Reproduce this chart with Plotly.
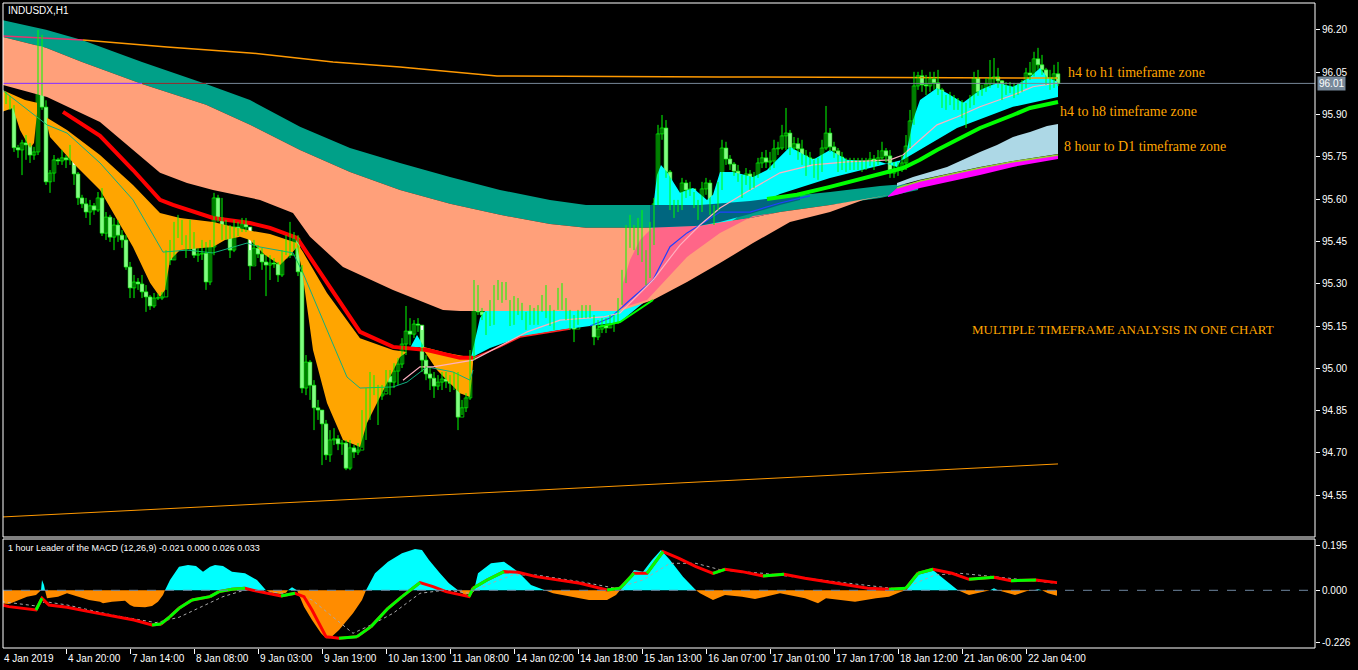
import plotly.graph_objects as go

# ---------------- price data (H1 bars, index 0..264) ----------------
open0 = 95.980
close = [
95.962, 95.951, 95.926, 95.782, 95.774, 95.799, 95.792, 95.756, 95.767, 96.146,
95.926, 95.661, 95.692, 95.739, 95.735, 95.746, 95.739, 95.763, 95.689, 95.604,
95.583, 95.554, 95.576, 95.561, 95.604, 95.479, 95.536, 95.465, 95.508, 95.472,
95.455, 95.359, 95.285, 95.306, 95.299, 95.271, 95.253, 95.221, 95.249, 95.249,
95.253, 95.395, 95.384, 95.490, 95.494, 95.455, 95.437, 95.451, 95.401, 95.405,
95.408, 95.306, 95.430, 95.604, 95.533, 95.483, 95.497, 95.419, 95.501, 95.490,
95.512, 95.501, 95.363, 95.426, 95.405, 95.377, 95.366, 95.373, 95.370, 95.331,
95.391, 95.441, 95.401, 95.462, 95.342, 94.930, 95.022, 94.940, 94.860, 94.852,
94.803, 94.693, 94.746, 94.750, 94.732, 94.735, 94.646, 94.718, 94.703, 94.710,
94.838, 94.909, 94.965, 94.926, 94.902, 94.909, 94.972, 94.951, 94.990, 95.015,
95.086, 95.132, 95.121, 95.157, 95.153, 95.029, 94.980, 94.965, 94.937, 94.951,
94.962, 94.954, 94.947, 94.965, 94.827, 94.860, 94.895, 95.036, 95.271, 95.200,
95.189, 95.182, 95.164, 95.267, 95.274, 95.253, 95.285, 95.164, 95.228, 95.217,
95.189, 95.164, 95.192, 95.178, 95.192, 95.239, 95.260, 95.164, 95.182, 95.256,
95.224, 95.185, 95.167, 95.139, 95.178, 95.203, 95.200, 95.203, 95.111, 95.139,
95.153, 95.143, 95.167, 95.164, 95.228, 95.310, 95.448, 95.476, 95.444, 95.462,
95.398, 95.327, 95.476, 95.583, 95.831, 95.852, 95.696, 95.590, 95.568, 95.572,
95.657, 95.632, 95.636, 95.590, 95.547, 95.636, 95.657, 95.565, 95.533, 95.639,
95.781, 95.742, 95.724, 95.699, 95.682, 95.625, 95.689, 95.675, 95.668, 95.728,
95.746, 95.731, 95.735, 95.778, 95.781, 95.824, 95.834, 95.781, 95.796, 95.778,
95.753, 95.746, 95.742, 95.696, 95.724, 95.781, 95.834, 95.785, 95.771, 95.749,
95.724, 95.714, 95.728, 95.724, 95.728, 95.724, 95.728, 95.742, 95.721, 95.746,
95.771, 95.753, 95.692, 95.703, 95.707, 95.728, 95.788, 95.877, 96.001, 96.037,
96.005, 96.001, 96.026, 96.012, 95.987, 95.944, 95.948, 95.955, 95.937, 95.941,
95.912, 95.902, 95.948, 96.029, 95.980, 95.984, 96.008, 96.026, 96.033, 96.019,
95.973, 95.991, 95.994, 95.980, 95.991, 96.001, 96.047, 96.040, 96.097, 96.076,
96.058, 96.029, 96.026, 96.044, 96.010]
high = [
95.994, 95.980, 95.966, 95.933, 95.792, 95.810, 95.827, 95.799, 95.785, 96.200,
96.182, 95.950, 95.703, 95.756, 95.746, 95.774, 95.756, 95.792, 95.721, 95.696,
95.615, 95.604, 95.597, 95.586, 95.625, 95.639, 95.554, 95.544, 95.533, 95.526,
95.490, 95.472, 95.377, 95.331, 95.320, 95.331, 95.295, 95.260, 95.267, 95.264,
95.271, 95.419, 95.455, 95.519, 95.544, 95.526, 95.472, 95.526, 95.483, 95.426,
95.455, 95.448, 95.455, 95.622, 95.615, 95.604, 95.526, 95.508, 95.526, 95.519,
95.533, 95.533, 95.419, 95.455, 95.437, 95.426, 95.401, 95.401, 95.391, 95.377,
95.419, 95.472, 95.519, 95.483, 95.472, 95.366, 95.047, 95.029, 94.958, 94.888,
94.852, 94.817, 94.781, 94.788, 94.763, 94.746, 94.746, 94.746, 94.728, 94.735,
94.852, 94.930, 94.987, 94.976, 94.941, 94.941, 94.994, 94.994, 95.018, 95.036,
95.107, 95.221, 95.178, 95.171, 95.178, 95.136, 95.047, 95.001, 94.987, 94.976,
94.987, 94.987, 94.976, 94.987, 94.987, 94.888, 94.912, 95.065, 95.313, 95.295,
95.214, 95.200, 95.242, 95.295, 95.313, 95.306, 95.306, 95.242, 95.256, 95.249,
95.232, 95.200, 95.224, 95.214, 95.224, 95.260, 95.295, 95.224, 95.207, 95.285,
95.302, 95.249, 95.207, 95.189, 95.207, 95.224, 95.224, 95.224, 95.189, 95.171,
95.178, 95.178, 95.189, 95.189, 95.249, 95.349, 95.508, 95.544, 95.508, 95.533,
95.561, 95.419, 95.519, 95.604, 95.863, 95.898, 95.880, 95.703, 95.597, 95.597,
95.675, 95.668, 95.661, 95.625, 95.597, 95.661, 95.675, 95.668, 95.579, 95.661,
95.810, 95.803, 95.756, 95.731, 95.721, 95.685, 95.710, 95.703, 95.696, 95.746,
95.767, 95.774, 95.767, 95.810, 95.803, 95.863, 95.923, 95.845, 95.820, 95.817,
95.810, 95.774, 95.767, 95.739, 95.746, 95.810, 95.930, 95.852, 95.803, 95.781,
95.767, 95.746, 95.746, 95.746, 95.746, 95.746, 95.746, 95.767, 95.756, 95.774,
95.803, 95.781, 95.774, 95.731, 95.731, 95.756, 95.827, 95.916, 96.051, 96.051,
96.058, 96.040, 96.051, 96.051, 96.058, 95.994, 95.969, 95.980, 95.969, 95.958,
95.951, 95.941, 95.969, 96.051, 96.058, 96.005, 96.029, 96.093, 96.100, 96.065,
96.022, 96.015, 96.015, 96.012, 96.012, 96.022, 96.065, 96.086, 96.122, 96.136,
96.111, 96.065, 96.058, 96.076, 96.086]
low = [
95.951, 95.937, 95.916, 95.767, 95.746, 95.685, 95.739, 95.728, 95.739, 95.756,
95.916, 95.650, 95.622, 95.661, 95.721, 95.721, 95.710, 95.721, 95.650, 95.579,
95.568, 95.533, 95.508, 95.544, 95.554, 95.469, 95.455, 95.448, 95.419, 95.448,
95.427, 95.349, 95.249, 95.249, 95.278, 95.249, 95.200, 95.207, 95.214, 95.242,
95.242, 95.278, 95.366, 95.384, 95.462, 95.437, 95.391, 95.419, 95.391, 95.377,
95.384, 95.278, 95.295, 95.401, 95.519, 95.455, 95.455, 95.391, 95.412, 95.469,
95.483, 95.483, 95.313, 95.366, 95.391, 95.349, 95.256, 95.313, 95.356, 95.306,
95.324, 95.401, 95.391, 95.419, 95.327, 94.912, 94.905, 94.888, 94.781, 94.817,
94.657, 94.675, 94.668, 94.728, 94.710, 94.693, 94.639, 94.639, 94.682, 94.693,
94.718, 94.746, 94.817, 94.905, 94.799, 94.888, 94.916, 94.905, 94.930, 94.941,
95.001, 95.047, 95.082, 95.107, 95.129, 94.987, 94.958, 94.923, 94.895, 94.923,
94.923, 94.930, 94.916, 94.923, 94.781, 94.834, 94.845, 94.888, 95.029, 95.189,
95.171, 95.118, 95.150, 95.154, 95.242, 95.232, 95.242, 95.150, 95.154, 95.189,
95.171, 95.136, 95.154, 95.154, 95.154, 95.200, 95.178, 95.150, 95.136, 95.207,
95.207, 95.171, 95.136, 95.093, 95.154, 95.178, 95.178, 95.178, 95.082, 95.100,
95.125, 95.125, 95.143, 95.129, 95.157, 95.225, 95.302, 95.427, 95.419, 95.401,
95.377, 95.295, 95.320, 95.437, 95.579, 95.810, 95.675, 95.561, 95.533, 95.554,
95.561, 95.604, 95.611, 95.568, 95.526, 95.554, 95.615, 95.544, 95.508, 95.561,
95.632, 95.721, 95.703, 95.682, 95.661, 95.604, 95.650, 95.632, 95.639, 95.675,
95.710, 95.710, 95.703, 95.710, 95.756, 95.774, 95.774, 95.756, 95.774, 95.739,
95.721, 95.682, 95.721, 95.675, 95.668, 95.696, 95.774, 95.767, 95.746, 95.696,
95.703, 95.696, 95.703, 95.703, 95.703, 95.696, 95.703, 95.717, 95.703, 95.721,
95.739, 95.731, 95.675, 95.675, 95.682, 95.696, 95.703, 95.781, 95.863, 95.987,
95.980, 95.969, 95.980, 95.987, 95.969, 95.923, 95.916, 95.933, 95.916, 95.916,
95.887, 95.852, 95.923, 95.933, 95.966, 95.966, 95.980, 95.994, 96.005, 95.994,
95.951, 95.969, 95.976, 95.958, 95.969, 95.980, 95.994, 96.022, 96.035, 96.058,
96.040, 96.005, 95.987, 95.994, 96.001]
bars = list(range(len(close)))
opens = [open0] + close[:-1]

x_tick_bars = [0, 16, 32, 48, 64, 80, 96, 112, 128, 144, 160, 176, 192, 208, 224, 240, 256]
x_tick_text = ["4 Jan 2019", "4 Jan 20:00", "7 Jan 14:00", "8 Jan 08:00", "9 Jan 03:00",
               "9 Jan 19:00", "10 Jan 13:00", "11 Jan 08:00", "14 Jan 02:00", "14 Jan 18:00",
               "15 Jan 13:00", "16 Jan 07:00", "17 Jan 01:00", "17 Jan 17:00", "18 Jan 12:00",
               "21 Jan 06:00", "22 Jan 04:00"]
price_ticks = [96.20, 96.05, 95.90, 95.75, 95.60, 95.45, 95.30, 95.15, 95.00, 94.85, 94.70, 94.55]
last_price = 96.01

# ---------------- zones (indicator bands) ----------------
teal_b = [0, 11, 20, 35, 51, 62, 74.5, 87, 99.5, 112, 124.5, 137, 146, 162, 174.5, 187, 194.5, 207, 219.5, 229]
teal_top = [96.235, 96.200, 96.164, 96.086, 96.008, 95.951, 95.856, 95.781, 95.728, 95.678, 95.632, 95.597,
            95.579, 95.579, 95.579, 95.593, 95.607, 95.625, 95.646, 95.657]
teal_bot = [96.175, 96.136, 96.086, 96.008, 95.934, 95.863, 95.774, 95.696, 95.632, 95.583, 95.544, 95.512,
            95.498, 95.498, 95.505, 95.533, 95.554, 95.579, 95.604, 95.632]

salmon_top_b = teal_b[:18] + [222]
salmon_top = teal_bot[:18] + [95.615]
salmon_bot_b = [0, 11.25, 24.5, 32.75, 39.5, 46.25, 52.75, 64.5, 72.75, 77, 85.25, 97.75, 110.25, 114.5,
                154.5, 162.75, 171.25, 179.5, 187.75, 197, 207, 215.25, 222]
salmon_bot = [96.005, 95.962, 95.873, 95.774, 95.693, 95.657, 95.632, 95.597, 95.551, 95.466, 95.359, 95.278,
              95.207, 95.203, 95.203, 95.242, 95.306, 95.373, 95.444, 95.519, 95.554, 95.597, 95.615]

pink_top_b = [155, 155.25, 157, 159.5, 162.75, 174.5, 187, 193.25]
pink_top = [95.242, 95.303, 95.384, 95.455, 95.501, 95.505, 95.533, 95.551]
pink_bot_b = [155, 161.25, 171.25, 179.5, 187.75]
pink_bot = [95.214, 95.242, 95.395, 95.480, 95.540]

dteal_top_b = [162, 174.5, 187, 194.5, 199.5]
dteal_top = [95.579, 95.579, 95.593, 95.607, 95.615]
dteal_bot_b = [162, 174.5, 179.5, 187, 194.5, 199.5]
dteal_bot = [95.498, 95.505, 95.519, 95.547, 95.579, 95.597]

cyan_top_b = [117.25, 118.25, 119.5, 121.25, 154.5, 161.25, 162.75, 163.75, 164.75, 166.25, 169.5, 172.75,
              176.25, 177.75, 179.5, 182.75, 187.75, 191.25, 193.75, 197, 202.75, 207, 211.25, 219.5, 223.75,
              226.25, 227.75, 229.5, 233.75, 236.25, 240.25, 244.5, 248.75, 252.75, 257, 259.5, 261.25, 264]
cyan_top = [95.037, 95.100, 95.178, 95.214, 95.225, 95.384, 95.572, 95.685, 95.721, 95.696, 95.622, 95.639,
            95.597, 95.615, 95.696, 95.696, 95.678, 95.703, 95.739, 95.785, 95.739, 95.774, 95.739, 95.732,
            95.714, 95.774, 95.880, 95.951, 95.994, 95.976, 95.941, 95.987, 96.012, 95.998, 96.033, 96.065,
            96.033, 96.015]
cyan_bot_b = [117.25, 122, 129.5, 139.5, 147, 154.5, 162.75, 172, 179.5, 187, 194.5, 207, 217, 225.25, 229.5,
              238.75, 252.75, 264]
cyan_bot = [95.037, 95.072, 95.111, 95.136, 95.150, 95.164, 95.260, 95.402, 95.490, 95.568, 95.618, 95.675,
            95.710, 95.739, 95.774, 95.852, 95.927, 95.962]
cyan_small_b = [102, 103.75, 105.5]
cyan_small = [95.072, 95.118, 95.076]

orA_top_b = [0, 2.75, 5.75, 8.75]
orA_top = [95.987, 95.969, 95.951, 95.941]
orA_bot_b = [0, 2.75, 4.5, 7, 8, 8.75]
orA_bot = [95.909, 95.923, 95.845, 95.781, 95.799, 95.905]
orB_top_b = [11.25, 16.25, 24.5, 32.75, 39.5, 44.5, 52.75, 61.25, 67, 73.75, 75.25, 81.25, 89.5, 97.75, 101.25]
orB_top = [95.888, 95.845, 95.756, 95.650, 95.551, 95.533, 95.519, 95.490, 95.476, 95.444, 95.412, 95.267,
           95.107, 95.065, 95.058]
orB_bot_b = [11.25, 12, 18.75, 24.5, 32.75, 37, 39.5, 40.75, 42, 44.5, 52.75, 55.75, 59.5, 62, 65.75, 69.5,
             72, 73.75, 75, 77.75, 81.25, 85.25, 89.5, 91.25, 94.5, 99.5, 101.25]
orB_bot = [95.863, 95.820, 95.714, 95.632, 95.430, 95.303, 95.253, 95.278, 95.384, 95.419, 95.430, 95.455,
           95.466, 95.455, 95.402, 95.366, 95.402, 95.430, 95.349, 95.065, 94.877, 94.746, 94.721, 94.806,
           94.898, 95.040, 95.058]
orC_top_b = [105.25, 111.25, 117.75]
orC_top = [95.076, 95.054, 95.037]
orC_bot_b = [105.25, 108.75, 111.25, 114.5, 117, 117.75]
orC_bot = [95.068, 94.994, 94.958, 94.912, 94.898, 95.019]

lb_top_b = [223.75, 227.75, 232, 236.25, 240.25, 244.5, 248.75, 252.75, 257, 261.25, 264]
lb_top = [95.657, 95.678, 95.696, 95.714, 95.739, 95.767, 95.792, 95.820, 95.838, 95.859, 95.866]
lb_bot_b = [223.75, 229.5, 236.25, 244.5, 252.75, 264]
lb_bot = [95.646, 95.668, 95.689, 95.714, 95.735, 95.760]
mg_top_b = [221.5, 223.75, 229.5, 236.25, 244.5, 252.75, 264]
mg_top = [95.611, 95.639, 95.664, 95.685, 95.710, 95.732, 95.756]
mg_bot_b = [221.5, 224.5, 229.5, 236.25, 244.5, 252.75, 264]
mg_bot = [95.607, 95.618, 95.639, 95.661, 95.685, 95.714, 95.742]

# ---------------- moving-average lines ----------------
red_b = [15.25, 24.5, 32.75, 39.5, 42.75, 52.75, 62, 67, 73.75, 81.25, 89.5, 97.75, 106.25, 114.5, 117.75]
red_v = [95.909, 95.824, 95.703, 95.597, 95.579, 95.533, 95.515, 95.498, 95.462, 95.303, 95.129, 95.076,
         95.065, 95.037, 95.037]
red_thin_b = [117.75, 124.5, 129.5, 137, 142]
red_thin_v = [95.037, 95.076, 95.111, 95.129, 95.139]
green1_b = [149, 154.5, 162.75]
green1_v = [95.146, 95.164, 95.242]
green2_b = [191.25, 198.75, 207, 217, 222, 225.25, 229.5, 233.75, 238.75, 244.5, 252.75, 257, 264]
green2_v = [95.600, 95.615, 95.643, 95.678, 95.696, 95.710, 95.739, 95.774, 95.810, 95.852, 95.898, 95.923, 95.944]
blue_b = [147, 152, 157, 162.75, 167, 171.25, 174.5, 179.5, 187, 194.5, 202]
blue_v = [95.150, 95.178, 95.242, 95.313, 95.431, 95.480, 95.508, 95.554, 95.554, 95.586, 95.611]
pinkl_b = [100.25, 104.5, 107.75, 117.75, 131.25, 139.5, 150.25, 154.5, 162.75, 169.5, 174.5, 179.5, 187,
           194.5, 202.75, 211.25, 222, 225.25, 229.5, 233.75, 238.75, 244.5, 252.75, 257.75, 264]
pinkl_v = [94.958, 95.005, 95.005, 95.029, 95.129, 95.171, 95.182, 95.196, 95.313, 95.437, 95.508, 95.568,
           95.632, 95.693, 95.721, 95.732, 95.739, 95.756, 95.810, 95.863, 95.891, 95.927, 95.969, 95.998, 96.012]
tg_b = [0, 7, 11.25, 16.25, 24.5, 32.75, 40.25, 46.25, 52.75, 61.25, 64.5, 72.75, 75.25, 81.25, 86.25, 89.5,
        97.75, 101.25, 106.25, 112.75, 117, 117.75]
tg_v = [95.987, 95.909, 95.863, 95.834, 95.728, 95.597, 95.412, 95.419, 95.409, 95.444, 95.430, 95.409,
        95.338, 95.136, 94.969, 94.930, 94.934, 94.951, 95.005, 94.987, 94.958, 94.994]
otop_b = [0, 20.25, 41.25, 62, 82.75, 99.5, 123.75, 179.5, 264]
otop_v = [96.178, 96.164, 96.139, 96.118, 96.086, 96.068, 96.036, 96.033, 96.029]
olow_b = [0, 264]
olow_v = [94.473, 94.661]

# ---------------- MACD panel ----------------
hist_b = [0, 1.75, 6.25, 8.5, 9.75, 10, 10.5, 10.75, 11.25, 14, 16.25, 19, 21.75, 24.5, 25.25, 27.5, 30.75,
          32, 33, 35.75, 37.5, 39, 40.25, 40.75, 42, 44.25, 46.5, 48.5, 50.25, 52, 53.25, 55.25, 57.5, 60.75,
          63.75, 65.5, 66, 67.5, 69.5, 71, 71.5, 72.5, 73.25, 73.75, 75.5, 77.5, 79.75, 81, 82, 84.25, 87.75,
          90, 91, 93.25, 96.5, 100, 103.25, 105, 106.75, 109.5, 111.75, 114, 115.75, 117.5, 118, 119, 122.25,
          125.5, 129, 132.25, 135.75, 137.75, 142.25, 146.75, 151.25, 153.5, 154.5, 158, 160.25, 162.5,
          164.75, 167, 170.25, 173.5, 174.5, 177.75, 180.75, 185, 188.25, 194.5, 200.75, 204, 206, 210.25,
          213.25, 218.5, 221.75, 224.75, 226, 229, 232.75, 235.25, 239, 241.75, 245.75, 247, 248, 249,
          253.25, 256.25, 258, 259, 260, 261.5, 263.75]
hist_v = [-0.0563, -0.0592, -0.0274, -0.0202, 0.0, 0.0447, 0.0231, 0.0, -0.0346, -0.0274, -0.0130, -0.0274,
          -0.0418, -0.0491, -0.0563, -0.0491, -0.0447, -0.0635, -0.0707, -0.0736, -0.0678, -0.0491, -0.0202,
          0.0, 0.0447, 0.1025, 0.1097, 0.1053, 0.0808, 0.1025, 0.1097, 0.1053, 0.0808, 0.0736, 0.0447, 0.0087,
          0.0, -0.0101, -0.0159, -0.0101, 0.0, 0.0130, 0.0072, 0.0, -0.0707, -0.1284, -0.1861, -0.2078,
          -0.2078, -0.1717, -0.0996, -0.0418, 0.0, 0.0736, 0.1241, 0.1602, 0.1789, 0.1746, 0.1313, 0.0736,
          0.0303, 0.0, -0.0202, -0.0130, 0.0, 0.0736, 0.1169, 0.1241, 0.0808, 0.0231, 0.0, -0.0130, -0.0274,
          -0.0418, -0.0418, -0.0202, 0.0, 0.0880, 0.0808, 0.1313, 0.1746, 0.1313, 0.0592, 0.0, -0.0130,
          -0.0418, -0.0202, -0.0274, -0.0375, -0.0130, -0.0346, -0.0563, -0.0346, -0.0418, -0.0491, -0.0346,
          -0.0274, -0.0058, 0.0, 0.0736, 0.0880, 0.0519, 0.0, -0.0202, -0.0058, 0.0, 0.0087, 0.0, -0.0202,
          -0.0029, 0.0, 0.0043, 0.0, -0.0130, -0.0231]
macd_b = [0, 1.75, 8.5, 10, 11.75, 16.25, 21.75, 27.5, 33, 37.5, 39.75, 42, 44.25, 47.5, 52, 54.25, 57.5,
          60.75, 64.25, 69.75, 73.25, 75.5, 77.5, 81, 84.25, 88.75, 92.25, 96.5, 100, 104.5, 107.75, 111,
          114.5, 116.75, 117.75, 121.25, 125.5, 129, 133.5, 139, 144.5, 151.25, 154.5, 158, 161.25, 165.25,
          169.25, 173.5, 174.5, 177.75, 180.75, 185, 190.25, 195.5, 200.75, 206, 211.25, 216.5, 221.75, 226,
          229, 232.75, 237.5, 241.75, 248, 252.25, 258.5, 263.75]
macd_v = [-0.0635, -0.0707, -0.0851, -0.0346, -0.0635, -0.0736, -0.0924, -0.1111, -0.1284, -0.1501, -0.1457,
          -0.1140, -0.0779, -0.0418, -0.0274, -0.0058, 0.0043, 0.0087, -0.0058, -0.0245, -0.0130, -0.0274,
          -0.0851, -0.2006, -0.2078, -0.2006, -0.1573, -0.0779, -0.0274, 0.0332, 0.0159, -0.0058, -0.0202,
          -0.0274, 0.0087, 0.0447, 0.0808, 0.0779, 0.0592, 0.0447, 0.0303, 0.0014, 0.0087, 0.0736, 0.0736,
          0.1674, 0.1385, 0.1025, 0.0952, 0.0736, 0.0909, 0.0808, 0.0620, 0.0693, 0.0519, 0.0375, 0.0231,
          0.0087, 0.0043, 0.0087, 0.0736, 0.0909, 0.0736, 0.0476, 0.0563, 0.0418, 0.0447, 0.0332]
sig_b = [0, 8.5, 10.75, 16.25, 27.5, 38.5, 44.25, 49.75, 55.25, 60.75, 66.5, 73.25, 77.5, 83.25, 87.75,
         92.25, 97.75, 104.5, 111, 116.75, 122.25, 127.75, 133.5, 144.5, 153.5, 160.25, 167, 173.5, 179.75,
         190.25, 200.75, 211.25, 216.5, 224.75, 233.25, 239.5, 248, 263.75]
sig_v = [-0.0491, -0.0678, -0.0491, -0.0635, -0.1068, -0.1400, -0.1169, -0.0707, -0.0274, 0.0014, -0.0058,
         -0.0173, -0.0418, -0.1212, -0.1861, -0.1501, -0.0996, -0.0130, 0.0014, -0.0130, 0.0303, 0.0664,
         0.0664, 0.0375, 0.0087, 0.0447, 0.1169, 0.1169, 0.0880, 0.0736, 0.0519, 0.0303, 0.0188, 0.0043,
         0.0664, 0.0736, 0.0592, 0.0300]
macd_ticks = [0.195, 0.0, -0.226]
macd_tick_text = ["0.195", "0.000", "-0.226"]

# ---------------- layout geometry ----------------
W, H = 1358, 670
X_DOM = [3 / W, 1315 / W]
Y_MAIN = [1 - 537 / H, 1 - 3 / H]
Y_MACD = [1 - 648 / H, 1 - 539 / H]
X_RANGE = [0.25, 328.25]
Y_RANGE = [94.402, 96.295]
Y2_RANGE = [-0.2498, 0.2221]


def px(xp):
    return xp / W


def py(yp):
    return 1 - yp / H


def bar_to_paper(b):
    return X_DOM[0] + (b - X_RANGE[0]) / (X_RANGE[1] - X_RANGE[0]) * (X_DOM[1] - X_DOM[0])


def poly(tb, tv, bb, bv):
    return list(tb) + list(bb)[::-1], list(tv) + list(bv)[::-1]


fig = go.Figure()


def add_zone(tb, tv, bb, bv, color):
    xs, ys = poly(tb, tv, bb, bv)
    fig.add_trace(go.Scatter(x=xs, y=ys, fill="toself", fillcolor=color, mode="lines",
                             line=dict(width=0, color=color), hoverinfo="skip", showlegend=False))


def add_line(xs, ys, color, width, dash="solid", yaxis="y"):
    fig.add_trace(go.Scatter(x=xs, y=ys, mode="lines", line=dict(color=color, width=width, dash=dash),
                             yaxis=yaxis, hoverinfo="skip", showlegend=False))


TEAL = "#00A088"
SALMON = "#FFA07A"
PINK = "#FF6688"
DTEAL = "#00667F"
CYAN = "#00FFFF"
ORANGE = "#FFA500"
CANDLE = "#00FF00"

add_zone(teal_b, teal_top, teal_b, teal_bot, TEAL)
add_zone(cyan_top_b, cyan_top, cyan_bot_b, cyan_bot, CYAN)
add_zone(salmon_top_b, salmon_top, salmon_bot_b, salmon_bot, SALMON)
add_zone(pink_top_b, pink_top, pink_bot_b, pink_bot, PINK)
add_zone(dteal_top_b, dteal_top, dteal_bot_b, dteal_bot, DTEAL)
add_zone(orA_top_b, orA_top, orA_bot_b, orA_bot, ORANGE)
add_zone(orB_top_b, orB_top, orB_bot_b, orB_bot, ORANGE)
add_zone(orC_top_b, orC_top, orC_bot_b, orC_bot, ORANGE)
fig.add_trace(go.Scatter(x=cyan_small_b, y=cyan_small, fill="toself", fillcolor=CYAN, mode="lines",
                         line=dict(width=0), hoverinfo="skip", showlegend=False))
add_zone(lb_top_b, lb_top, lb_bot_b, lb_bot, "#ADD8E6")
add_zone(mg_top_b, mg_top, mg_bot_b, mg_bot, "#FF00FF")

# lines
add_line(mg_top_b[1:], mg_top[1:], "#9ACD32", 1.5)
add_line(olow_b, olow_v, "#FF9900", 1)
add_line(otop_b[:2], otop_v[:2], "#E8306E", 1.5)
add_line(otop_b[1:], otop_v[1:], "#FF9900", 1.5)
add_line(tg_b, tg_v, "#10B080", 1)
add_line(red_b, red_v, "#FF0000", 4)
add_line(red_thin_b, red_thin_v, "#FF2020", 1.5)
add_line(blue_b, blue_v, "#2040FF", 1.2)
add_line(pinkl_b, pinkl_v, "#FFB0C0", 1.2)
add_line(green1_b, green1_v, "#00FF00", 2)
add_line(green2_b, green2_v, "#00FF00", 4)

# candles: wicks then bodies
wx, wy = [], []
for i in bars:
    wx += [i, i, None]
    wy += [low[i], high[i], None]
fig.add_trace(go.Scatter(x=wx, y=wy, mode="lines", line=dict(color=CANDLE, width=1),
                         hoverinfo="skip", showlegend=False))
MIN_BODY = 0.0012
bull_x, bull_base, bull_h, bear_x, bear_base, bear_h = [], [], [], [], [], []
for i in bars:
    o, c = opens[i], close[i]
    h_ = max(abs(c - o), MIN_BODY)
    if c >= o:
        bull_x.append(i); bull_base.append(min(o, c)); bull_h.append(h_)
    else:
        bear_x.append(i); bear_base.append(min(o, c)); bear_h.append(h_)
fig.add_trace(go.Bar(x=bull_x, y=bull_h, base=bull_base, width=0.9,
                     marker=dict(color="rgba(0,0,0,0)", line=dict(color=CANDLE, width=0.7)),
                     hoverinfo="skip", showlegend=False))
fig.add_trace(go.Bar(x=bear_x, y=bear_h, base=bear_base, width=0.9,
                     marker=dict(color="#FFFFFF", line=dict(color=CANDLE, width=0.7)),
                     hoverinfo="skip", showlegend=False))

# MACD histogram
pos = [v if v > 0 else 0.0 for v in hist_v]
neg = [v if v < 0 else 0.0 for v in hist_v]
fig.add_trace(go.Scatter(x=hist_b, y=pos, yaxis="y2", fill="tozeroy", fillcolor=CYAN, mode="lines",
                         line=dict(width=0, color=CYAN), hoverinfo="skip", showlegend=False))
fig.add_trace(go.Scatter(x=hist_b, y=neg, yaxis="y2", fill="tozeroy", fillcolor="#FF8C00", mode="lines",
                         line=dict(width=0, color="#FF8C00"), hoverinfo="skip", showlegend=False))
add_line(sig_b, sig_v, "#A9A9A9", 1, dash="dot", yaxis="y2")
add_line(macd_b, macd_v, "#FF0000", 3, yaxis="y2")
gx, gy = [], []
for k in range(len(macd_v) - 1):
    if macd_v[k + 1] > macd_v[k]:
        gx += [macd_b[k], macd_b[k + 1], None]
        gy += [macd_v[k], macd_v[k + 1], None]
add_line(gx, gy, "#00FF00", 3, yaxis="y2")

# ---------------- shapes ----------------
shapes = [
    dict(type="line", xref="paper", yref="y", x0=X_DOM[0], x1=X_DOM[1], y0=last_price, y1=last_price,
         line=dict(color="#778899", width=1)),
    dict(type="line", xref="x", yref="y", x0=0.25, x1=35, y0=last_price, y1=last_price,
         line=dict(color="#9933FF", width=1)),
    dict(type="line", xref="x", yref="y", x0=35, x1=51, y0=last_price, y1=last_price,
         line=dict(color="#8B2A2A", width=1)),
    dict(type="line", xref="paper", yref="y2", x0=X_DOM[0], x1=X_DOM[1], y0=0, y1=0,
         line=dict(color="#6F86A0", width=1, dash="dash")),
    dict(type="rect", xref="paper", yref="paper", x0=px(3), x1=px(1315), y0=py(537), y1=py(3),
         line=dict(color="white", width=1)),
    dict(type="rect", xref="paper", yref="paper", x0=px(3), x1=px(1315), y0=py(648), y1=py(539),
         line=dict(color="white", width=1)),
]

LBL = dict(family="Liberation Sans", size=10, color="white")
SERIF = dict(family="Liberation Serif", size=14, color=ORANGE)
annotations = [
    dict(text="INDUSDX,H1", xref="paper", yref="paper", x=px(6), y=py(10), xanchor="left",
         yanchor="middle", showarrow=False, font=dict(family="Liberation Sans", size=10, color="white")),
    dict(text="1 hour Leader of the MACD (12,26,9) -0.021 0.000 0.026 0.033", xref="paper", yref="paper",
         x=px(6), y=py(548), xanchor="left", yanchor="middle", showarrow=False,
         font=dict(family="Liberation Sans", size=9, color="white")),
    dict(text="h4 to h1 timeframe zone", xref="x", yref="y", x=266, y=96.047, xanchor="left",
         yanchor="middle", showarrow=False, font=SERIF),
    dict(text="h4 to h8 timeframe zone", xref="x", yref="y", x=264, y=95.909, xanchor="left",
         yanchor="middle", showarrow=False, font=SERIF),
    dict(text="8 hour to D1 timeframe zone", xref="x", yref="y", x=265, y=95.785, xanchor="left",
         yanchor="middle", showarrow=False, font=SERIF),
    dict(text="MULTIPLE TIMEFRAME ANALYSIS IN ONE CHART", xref="x", yref="y", x=242, y=95.136,
         xanchor="left", yanchor="middle", showarrow=False,
         font=dict(family="Liberation Serif", size=13, color=ORANGE)),
    dict(text="96.01", xref="paper", yref="y", x=px(1317), y=last_price, xanchor="left", yanchor="middle",
         showarrow=False, bgcolor="#778899", borderpad=1, font=dict(family="Liberation Sans", size=10, color="white")),
]
for b, t in zip(x_tick_bars, x_tick_text):
    annotations.append(dict(text=t, xref="paper", yref="paper", x=max(bar_to_paper(b), px(1)), y=py(651),
                            xanchor="left", yanchor="top", showarrow=False, font=LBL))

fig.update_layout(
    width=W, height=H, margin=dict(l=0, r=0, t=0, b=0),
    paper_bgcolor="black", plot_bgcolor="black", showlegend=False, barmode="overlay",
    xaxis=dict(domain=X_DOM, range=X_RANGE, anchor="y2", showgrid=False, zeroline=False, showline=False,
               tickmode="array", tickvals=x_tick_bars[1:], ticks="outside", ticklen=5, tickcolor="white",
               showticklabels=False, rangeslider=dict(visible=False), fixedrange=True),
    yaxis=dict(domain=Y_MAIN, range=Y_RANGE, anchor="x", side="right", showgrid=False, zeroline=False,
               tickmode="array", tickvals=price_ticks, ticktext=["%.2f" % v for v in price_ticks],
               ticks="outside", ticklen=4, tickcolor="white", tickfont=LBL, showline=False),
    yaxis2=dict(domain=Y_MACD, range=Y2_RANGE, anchor="x", side="right", showgrid=False, zeroline=False,
                tickmode="array", tickvals=macd_ticks, ticktext=macd_tick_text, ticks="outside", ticklen=4,
                tickcolor="white", tickfont=LBL, showline=False),
    shapes=shapes, annotations=annotations,
)

fig.write_html("out.html", config={"displayModeBar": False},
               post_script="document.body.style.margin='0px';document.body.style.overflow='hidden';")
